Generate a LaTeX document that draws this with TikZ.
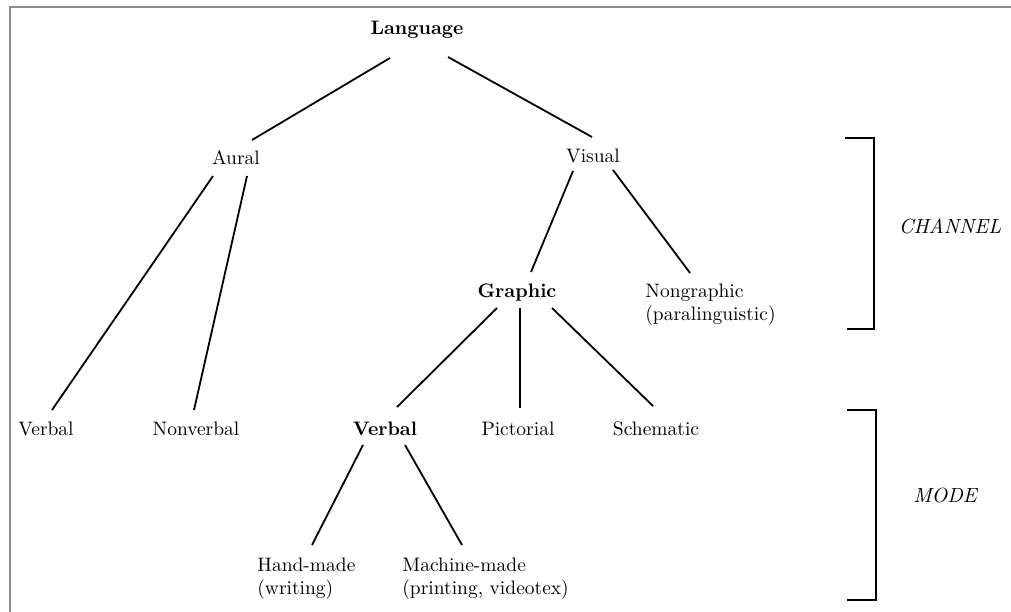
\documentclass[tikz,border=0pt]{standalone}
\usepackage{fontspec}
\newcommand\thickenfont{\addfontfeatures{FakeBold=1.8}}
\begin{document}
\begin{tikzpicture}[x=1pt,y=-1pt,
  base/.style={inner sep=0pt,scale=1.95,transform shape},
  lbl/.style={base,anchor=base,font=\fontsize{10}{12}\selectfont\thickenfont},
  blbl/.style={base,anchor=base,font=\fontsize{10}{12}\selectfont\bfseries\thickenfont},
  mlbl/.style={base,anchor=north west,align=left,font=\fontsize{10}{11.8}\selectfont\thickenfont},
  ilbl/.style={inner sep=0pt,scale=2.05,transform shape,anchor=base,font=\fontsize{10}{12}\selectfont\itshape\thickenfont},
  edge/.style={line width=1.8pt,black},
  brack/.style={line width=1.8pt,black},
  frame/.style={line width=1.2pt,black!45}]
\useasboundingbox (0,0) rectangle (1011,612);
\draw[frame] (10,612) -- (10,7) -- (1011,7);

\node[blbl] (lang) at (417,35) {Language};
\node[lbl] (aural) at (236,165) {Aural};
\node[lbl] (visual) at (593,163) {Visual};
\node[lbl] (verbA) at (46,435) {Verbal};
\node[lbl] (nonverb) at (196,435) {Nonverbal};
\node[blbl] (graphic) at (517,297) {Graphic};
\node[mlbl] (nongraph) at (645,284) {Nongraphic\\(paralinguistic)};
\node[blbl] (verbB) at (385,435) {Verbal};
\node[lbl] (pict) at (518,435) {Pictorial};
\node[lbl] (schem) at (656,435) {Schematic};
\node[mlbl] (hand) at (257,558) {Hand-made\\(writing)};
\node[mlbl] (mach) at (402,558) {Machine-made\\(printing, videotex)};
\node[ilbl] (channel) at (950,233) {CHANNEL};
\node[ilbl] (mode) at (945,502) {MODE};

\draw[edge] ([shift={(-27,23)}]lang.base) -- ([shift={(16,-25)}]aural.base);
\draw[edge] ([shift={(31,22)}]lang.base) -- ([shift={(-1,-26)}]visual.base);
\draw[edge] ([shift={(-23,11)}]aural.base) -- ([shift={(6,-25)}]verbA.base);
\draw[edge] ([shift={(11,11)}]aural.base) -- ([shift={(-2,-25)}]nonverb.base);
\draw[edge] ([shift={(-20,8)}]visual.base) -- ([shift={(14,-25)}]graphic.base);
\draw[edge] ([shift={(20,7)}]visual.base) -- ([shift={(45,-11)}]nongraph.north west);
\draw[edge] ([shift={(-20,11)}]graphic.base) -- ([shift={(12,-28)}]verbB.base);
\draw[edge] ([shift={(3,11)}]graphic.base) -- ([shift={(2,-27)}]pict.base);
\draw[edge] ([shift={(35,11)}]graphic.base) -- ([shift={(-3,-29)}]schem.base);
\draw[edge] ([shift={(-22,10)}]verbB.base) -- ([shift={(55,-13)}]hand.north west);
\draw[edge] ([shift={(20,10)}]verbB.base) -- ([shift={(60,-13)}]mach.north west);

\draw[brack] (845,138) -- (874,138) -- (874,329) -- (847,329);
\draw[brack] (847,410) -- (876,410) -- (876,600) -- (847,600);
\end{tikzpicture}
\end{document}
